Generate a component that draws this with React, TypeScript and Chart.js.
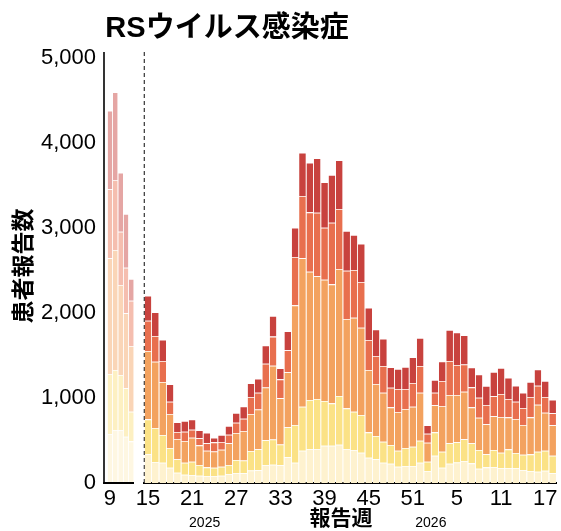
import React, { useEffect, useRef } from 'react';
import { Chart, registerables } from 'chart.js';

Chart.register(...registerables);

// ---- Data ----
const chartTitle = 'RSウイルス感染症';
const yTitle = '患者報告数';
const xTitle = '報告週';

// Earlier weeks (faded panel)
const leftWeeks = ['9', '10', '11', '12', '13'];
const leftGroup1 = [576, 624, 624, 545, 490];
const leftGroup2 = [706, 705, 647, 569, 349];
const leftGroup3 = [1361, 1412, 1058, 882, 773];
const leftGroup4 = [812, 824, 628, 537, 533];
const leftGroup5 = [925, 1031, 694, 632, 255];

// 2025 week 15 -> 2026 week 18
const rightWeeks = [
  '15', '16', '17', '18', '19', '20', '21', '22', '23', '24', '25', '26', '27', '28', '29', '30', '31', '32', '33',
  '34', '35', '36', '37', '38', '39', '40', '41', '42', '43', '44', '45', '46', '47', '48', '49', '50', '51', '52',
  '1', '2', '3', '4', '5', '6', '7', '8', '9', '10', '11', '12', '13', '14', '15', '16', '17', '18',
];
const group1 = [
  341, 247, 239, 180, 121, 98, 94, 86, 82, 82, 86, 106, 118, 115, 147, 150, 212, 216, 208,
  304, 239, 380, 400, 400, 439, 439, 451, 400, 388, 357, 298, 280, 239, 227, 192, 200, 200, 239,
  141, 321, 180, 227, 241, 259, 231, 169, 184, 188, 176, 176, 176, 153, 141, 133, 145, 114,
];
const group2 = [
  408, 400, 326, 232, 158, 141, 157, 126, 102, 98, 106, 106, 153, 150, 229, 247, 291, 295, 245,
  352, 443, 518, 576, 588, 526, 498, 573, 478, 451, 443, 298, 273, 247, 220, 188, 212, 227, 259,
  110, 275, 188, 240, 239, 256, 236, 219, 154, 200, 181, 220, 177, 180, 196, 235, 235, 207,
];
const group3 = [
  804, 780, 623, 400, 239, 255, 282, 231, 196, 192, 200, 255, 317, 347, 435, 467, 621, 869, 546,
  647, 1408, 1745, 1510, 1444, 1427, 1400, 1494, 1051, 1106, 1027, 733, 612, 576, 443, 455, 459, 471, 564,
  223, 318, 538, 568, 555, 559, 423, 381, 353, 397, 419, 376, 400, 349, 435, 553, 447, 358,
];
const group4 = [
  356, 302, 247, 144, 82, 110, 94, 83, 87, 106, 90, 101, 121, 144, 200, 197, 279, 342, 220,
  258, 569, 733, 698, 748, 612, 725, 706, 569, 561, 538, 353, 329, 314, 231, 271, 235, 278, 314,
  106, 148, 294, 400, 353, 320, 235, 235, 227, 235, 271, 216, 203, 200, 240, 224, 185, 141,
];
const group5 = [
  294, 279, 251, 205, 114, 125, 122, 94, 125, 55, 83, 103, 115, 144, 162, 165, 216, 244, 131,
  224, 345, 510, 584, 640, 533, 562, 572, 467, 412, 450, 380, 312, 322, 240, 235, 259, 303, 330,
  99, 150, 231, 365, 382, 345, 235, 274, 223, 286, 306, 251, 189, 180, 176, 192, 188, 160,
];
const groupNames = ['群1', '群2', '群3', '群4', '群5'];
const yearLabels = ['2025', '2026'];
const yearLabelAt = [7.7, 38.45];
const yTicks = [0, 1000, 2000, 3000, 4000, 5000];
const yMax = 5070;
const tickEvery = 6;

// ---- Styles ----
const colors = ['#FEF2CF', '#FBE286', '#F3A25F', '#E86F4E', '#C8423E'];
const fadedColors = [
  'rgba(254,242,207,0.6)',
  'rgba(251,226,134,0.5)',
  'rgba(243,162,95,0.45)',
  'rgba(232,111,78,0.45)',
  'rgba(200,66,62,0.47)',
];
const LATIN = '"Liberation Sans", Arial, sans-serif';
const JP = '"Liberation Sans", "Noto Sans CJK JP", sans-serif';

function makeDatasets(series: number[][], cols: string[], barPct: number) {
  return series.map((d, i) => ({
    label: groupNames[i],
    data: d,
    backgroundColor: cols[i],
    borderColor: 'rgba(255,255,255,0.4)',
    borderWidth: { top: 0.8, left: 0, right: 0, bottom: 0 },
    borderSkipped: false,
    barPercentage: barPct,
    categoryPercentage: 1,
  }));
}

const leftDecor = {
  id: 'leftDecor',
  afterDraw(chart: any) {
    const { ctx, chartArea } = chart;
    const ax = chartArea.left - 3.3;
    ctx.save();
    ctx.strokeStyle = '#000';
    ctx.lineWidth = 1.6;
    ctx.beginPath();
    ctx.moveTo(ax, chartArea.top);
    ctx.lineTo(ax, chartArea.bottom + 1);
    ctx.stroke();
    ctx.lineWidth = 2;
    ctx.beginPath();
    ctx.moveTo(ax - 0.8, chartArea.bottom);
    ctx.lineTo(chartArea.right, chartArea.bottom);
    ctx.stroke();
    // chart title
    ctx.fillStyle = '#000';
    ctx.font = `bold 29px ${JP}`;
    ctx.textAlign = 'center';
    ctx.textBaseline = 'middle';
    ctx.fillText(chartTitle, 227, 29);
    // y title
    ctx.translate(25, 266);
    ctx.rotate(-Math.PI / 2);
    ctx.font = `bold 23px ${JP}`;
    ctx.fillText(yTitle, 0, 0);
    ctx.restore();
  },
};

const rightDecor = {
  id: 'rightDecor',
  beforeDatasetsDraw(chart: any) {
    const { ctx, chartArea } = chart;
    ctx.save();
    ctx.strokeStyle = '#333';
    ctx.lineWidth = 1.2;
    ctx.setLineDash([4, 3]);
    ctx.beginPath();
    ctx.moveTo(chartArea.left, chartArea.top);
    ctx.lineTo(chartArea.left, chartArea.bottom);
    ctx.stroke();
    ctx.restore();
  },
  afterDraw(chart: any) {
    const { ctx } = chart;
    const xs = chart.scales.x;
    ctx.save();
    ctx.fillStyle = '#000';
    ctx.textAlign = 'center';
    ctx.textBaseline = 'middle';
    ctx.font = `bold 21px ${JP}`;
    ctx.fillText(xTitle, 341, 519);
    ctx.font = `14px ${LATIN}`;
    yearLabels.forEach((t, i) => {
      ctx.fillText(t, xs.getPixelForValue(yearLabelAt[i]), 523);
    });
    ctx.restore();
  },
};

export default function App() {
  const leftRef = useRef<HTMLCanvasElement>(null);
  const rightRef = useRef<HTMLCanvasElement>(null);

  useEffect(() => {
    const left = new Chart(leftRef.current as HTMLCanvasElement, {
      type: 'bar',
      data: {
        labels: leftWeeks,
        datasets: makeDatasets(
          [leftGroup1, leftGroup2, leftGroup3, leftGroup4, leftGroup5],
          fadedColors,
          0.88
        ) as any,
      },
      options: {
        responsive: false,
        animation: false,
        devicePixelRatio: 1,
        layout: { padding: { left: 0, right: 427, top: 52, bottom: 0 } },
        plugins: { legend: { display: false }, tooltip: { enabled: false } },
        scales: {
          x: {
            stacked: true,
            grid: { display: false, drawTicks: false },
            border: { display: false },
            ticks: {
              autoSkip: false,
              maxRotation: 0,
              minRotation: 0,
              padding: 3,
              color: '#000',
              font: { family: LATIN, size: 22 },
              callback: (_v: any, i: number) => (i === 0 ? leftWeeks[i] : ''),
            },
            afterFit: (s: any) => {
              s.height = 48;
            },
          },
          y: {
            stacked: true,
            min: 0,
            max: yMax,
            grid: { display: false, drawTicks: false },
            border: { display: false },
            afterBuildTicks: (s: any) => {
              s.ticks = yTicks.map((v) => ({ value: v }));
            },
            ticks: {
              padding: 11.3,
              color: '#000',
              font: { family: LATIN, size: 22 },
              callback: (v: any) => Number(v).toLocaleString('en-US'),
            },
            afterFit: (s: any) => {
              s.width = 107.3;
            },
          },
        },
      } as any,
      plugins: [leftDecor],
    });

    const right = new Chart(rightRef.current as HTMLCanvasElement, {
      type: 'bar',
      data: {
        labels: rightWeeks,
        datasets: makeDatasets([group1, group2, group3, group4, group5], colors, 0.91) as any,
      },
      options: {
        responsive: false,
        animation: false,
        devicePixelRatio: 1,
        layout: { padding: { left: 144.3, right: 4.7, top: 52, bottom: 0 } },
        plugins: { legend: { display: false }, tooltip: { enabled: false } },
        scales: {
          x: {
            stacked: true,
            grid: { display: false, drawTicks: false },
            border: { display: true, color: '#000', width: 2 },
            ticks: {
              autoSkip: false,
              maxRotation: 0,
              minRotation: 0,
              padding: 3,
              color: '#000',
              font: { family: LATIN, size: 22 },
              callback: (_v: any, i: number) => (i % tickEvery === 0 ? rightWeeks[i] : ''),
            },
            afterFit: (s: any) => {
              s.height = 48;
            },
          },
          y: { stacked: true, display: false, min: 0, max: yMax },
        },
      } as any,
      plugins: [rightDecor],
    });

    return () => {
      left.destroy();
      right.destroy();
    };
  }, []);

  return (
    <div style={{ position: 'absolute', left: 0, top: 0, width: 561, height: 531, background: '#fff' }}>
      <canvas ref={leftRef} width={561} height={531} style={{ position: 'absolute', left: 0, top: 0 }} />
      <canvas ref={rightRef} width={561} height={531} style={{ position: 'absolute', left: 0, top: 0 }} />
    </div>
  );
}
